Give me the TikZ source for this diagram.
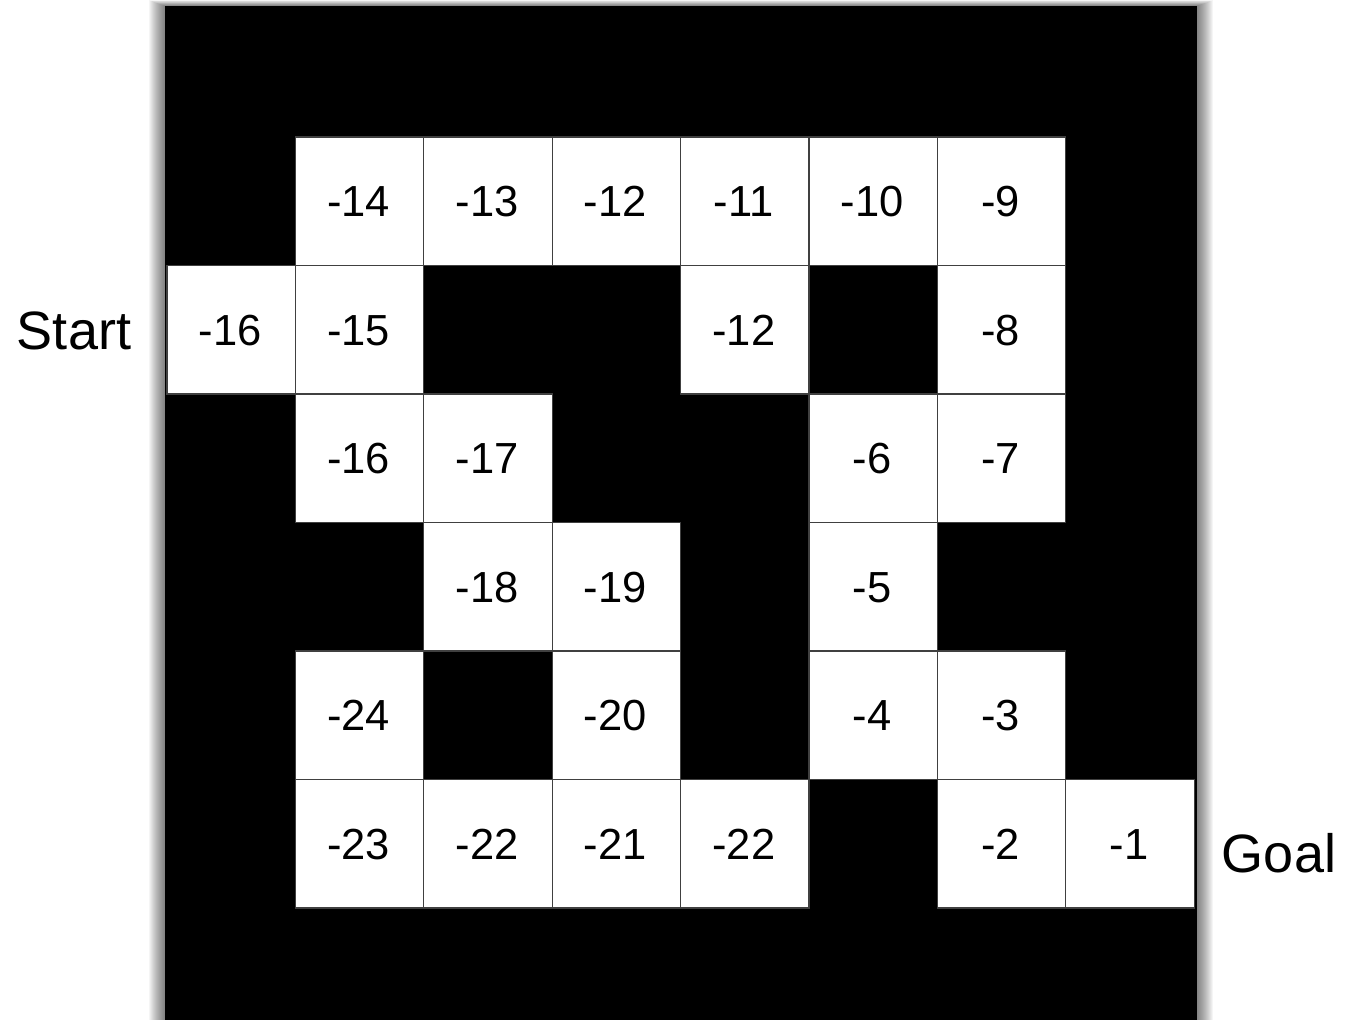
\documentclass[tikz,border=0pt]{standalone}
\usepackage{fontspec}
\setmainfont{Liberation Sans}
\begin{document}
\begin{tikzpicture}[x=1pt,y=-1pt,
  cellbox/.style={draw=black!75,line width=1.1pt,fill=white,minimum width=128.4pt,minimum height=128.5pt,inner sep=0pt,text height=31pt,text depth=0pt,font=\fontsize{43.5}{48}\selectfont},
  sidelabel/.style={font=\fontsize{54}{60}\selectfont,inner sep=0pt},
  shadowlayer/.style={fill=black,opacity=0.04}]
\useasboundingbox (0,0) rectangle (1360,1020);
\begin{scope}
\clip (0,0) rectangle (1360,1020);
\foreach \i in {1,...,16}
  \fill[shadowlayer] ({165-\i},{6-0.35*\i}) rectangle ({1197+\i},1040);
\fill[black] (165,6) rectangle (1197,1040);
\end{scope}
\foreach \c/\r/\t/\n in {1/0/-14/a, 2/0/-13/b, 3/0/-12/c, 4/0/-11/d, 5/0/-10/e, 6/0/-9/f,
  0/1/-16/g, 1/1/-15/h, 4/1/-12/i, 6/1/-8/j,
  1/2/-16/k, 2/2/-17/l, 5/2/-6/m, 6/2/-7/n,
  2/3/-18/o, 3/3/-19/p, 5/3/-5/q,
  1/4/-24/r, 3/4/-20/s, 5/4/-4/t, 6/4/-3/u,
  1/5/-23/v, 2/5/-22/w, 3/5/-21/x, 4/5/-22/y, 6/5/-2/z, 7/5/-1/zz}
  \node[cellbox] (cell\n) at ({167+128.4*\c+64.2},{137+128.5*\r+64.25}) {\t\hspace*{2pt}};
\node[sidelabel] (start) at (74,331) {Start};
\node[sidelabel] (goal) at (1279,853) {Goal};
\end{tikzpicture}
\end{document}
